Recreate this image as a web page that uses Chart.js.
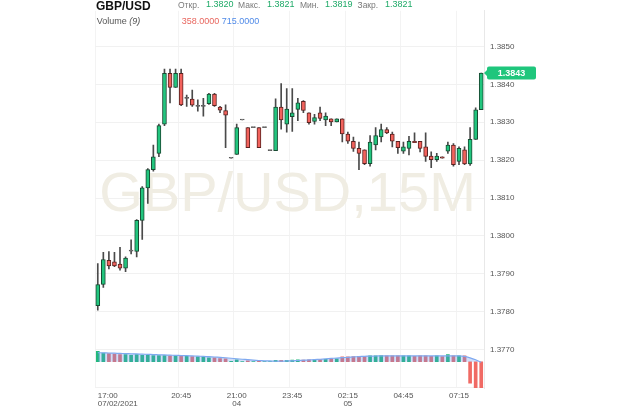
<!DOCTYPE html>
<html><head><meta charset="utf-8">
<script src="https://cdn.jsdelivr.net/npm/chart.js@4/dist/chart.umd.min.js"></script>
<style>
html,body{margin:0;padding:0;background:#fff;}
#wrap{position:relative;width:620px;height:409px;overflow:hidden;font-family:"Liberation Sans",Arial,sans-serif;}
canvas{position:absolute;left:0;top:0;}
.t{position:absolute;white-space:nowrap;}
.lb{font-size:8.5px;line-height:8.5px;color:#7a7a7a;top:1.2px;}
.vg{font-size:9px;line-height:9px;color:#1faa68;top:0px;}
</style></head><body>
<div id="wrap">
<canvas id="c" width="620" height="409"></canvas>
<div class="t" style="left:96px;top:0;font-weight:bold;font-size:12px;line-height:12px;color:#111">GBP/USD</div>
<div class="t lb" style="left:178px">Откр.</div>
<div class="t vg" style="left:206px">1.3820</div>
<div class="t lb" style="left:238px">Макс.</div>
<div class="t vg" style="left:267px">1.3821</div>
<div class="t lb" style="left:300px">Мин.</div>
<div class="t vg" style="left:325px">1.3819</div>
<div class="t lb" style="left:357.5px">Закр.</div>
<div class="t vg" style="left:385px">1.3821</div>
<div class="t" style="left:96.7px;top:17px;font-size:9px;line-height:9px;color:#555">Volume <i>(9)</i></div>
<div class="t" style="left:181.7px;top:17px;font-size:9px;line-height:9px;color:#e8665e">358.0000</div>
<div class="t" style="left:221.7px;top:17px;font-size:9px;line-height:9px;color:#4f8ae8">715.0000</div>
</div>
<script>
const opens  = [1.37816,1.37872,1.37936,1.37932,1.37926,1.37915,1.37960,1.37959,1.38041,1.38127,
                1.38175,1.38218,1.38295,1.38429,1.38392,1.38429,1.38363,1.38361,1.38342,1.38342,
                1.38349,1.38374,1.38340,1.38331,1.38205,1.38215,1.38306,1.38286,1.38286,1.38286,
                1.38286,1.38225,1.38225,1.38340,1.38295,1.38315,1.38334,1.38355,1.38325,1.38302,
                1.38325,1.38306,1.38309,1.38301,1.38309,1.38269,1.38250,1.38231,1.38227,1.38191,
                1.38240,1.38261,1.38281,1.38269,1.38250,1.38224,1.38231,1.38250,1.38250,1.38235,
                1.38211,1.38201,1.38209,1.38224,1.38240,1.38197,1.38227,1.38190,1.38255,1.38333];
const highs  = [1.37927,1.37957,1.37959,1.37957,1.37970,1.37945,1.37990,1.38043,1.38130,1.38178,
                1.38240,1.38295,1.38440,1.38440,1.38440,1.38440,1.38372,1.38385,1.38359,1.38363,
                1.38376,1.38376,1.38342,1.38346,1.38205,1.38295,1.38306,1.38286,1.38286,1.38286,
                1.38286,1.38225,1.38362,1.38402,1.38389,1.38389,1.38363,1.38357,1.38325,1.38321,
                1.38340,1.38325,1.38309,1.38309,1.38309,1.38274,1.38261,1.38248,1.38227,1.38265,
                1.38286,1.38295,1.38286,1.38274,1.38250,1.38248,1.38263,1.38272,1.38250,1.38272,
                1.38222,1.38218,1.38209,1.38248,1.38244,1.38235,1.38235,1.38286,1.38338,1.38430];
const lows   = [1.37804,1.37864,1.37913,1.37919,1.37910,1.37906,1.37953,1.37945,1.37991,1.38086,
                1.38171,1.38209,1.38291,1.38351,1.38392,1.38344,1.38342,1.38342,1.38329,1.38316,
                1.38347,1.38342,1.38325,1.38233,1.38205,1.38215,1.38306,1.38233,1.38286,1.38233,
                1.38286,1.38225,1.38225,1.38282,1.38274,1.38276,1.38304,1.38325,1.38295,1.38295,
                1.38304,1.38291,1.38291,1.38301,1.38248,1.38244,1.38223,1.38175,1.38188,1.38184,
                1.38227,1.38248,1.38270,1.38235,1.38218,1.38218,1.38214,1.38246,1.38222,1.38197,
                1.38180,1.38197,1.38205,1.38218,1.38184,1.38188,1.38188,1.38186,1.38255,1.38333];
const closes = [1.37872,1.37938,1.37921,1.37921,1.37915,1.37942,1.37960,1.38041,1.38127,1.38175,
                1.38209,1.38291,1.38429,1.38392,1.38429,1.38346,1.38363,1.38345,1.38342,1.38342,
                1.38374,1.38344,1.38332,1.38319,1.38205,1.38286,1.38306,1.38233,1.38286,1.38233,
                1.38286,1.38225,1.38340,1.38306,1.38335,1.38325,1.38351,1.38331,1.38299,1.38312,
                1.38310,1.38316,1.38301,1.38309,1.38269,1.38250,1.38231,1.38218,1.38191,1.38248,
                1.38265,1.38281,1.38272,1.38250,1.38233,1.38235,1.38250,1.38246,1.38231,1.38210,
                1.38201,1.38211,1.38205,1.38240,1.38188,1.38231,1.38190,1.38255,1.38333,1.38430];
const volumes = [1070,900,830,800,730,730,670,730,670,670,
                 630,630,630,600,600,600,570,530,500,470,
                 400,400,330,300,50,200,30,100,30,100,
                 30,30,150,150,150,170,200,170,200,200,
                 230,250,300,300,500,500,530,570,530,600,
                 600,630,600,600,600,600,600,570,600,600,
                 570,600,530,730,600,600,600,-2200,-2930,-3270];
const volumeMA = [930,920,900,880,860,840,820,800,780,760,
                  740,720,700,680,660,640,620,600,580,550,
                  520,490,450,410,360,310,260,210,170,130,
                  100,80,70,70,80,100,130,160,190,220,
                  260,300,340,380,420,460,500,530,560,580,
                  590,600,600,600,600,600,600,600,600,600,
                  600,600,600,600,600,600,550,400,200,-50];
const tickIdx  = [0,15,25,35,45,55,65];
const tickText = [['17:00','07/02/2021'],'20:45',['21:00','04'],'23:45',['02:15','05'],'04:45','07:15'];
const symbolText = 'GBP/USD,15M';

const labels = opens.map((_, i) => i);
const dir = opens.map((o, i) => closes[i] > o ? 1 : (closes[i] < o ? -1 : 0));
const GREEN = '#22c57e', RED = '#f2625c', FLAT = '#777';
const bodyColors = dir.map(d => d > 0 ? GREEN : d < 0 ? RED : FLAT);
const bodyBorders = dir.map(d => d > 0 ? '#184a32' : d < 0 ? '#5a2220' : '#555');
const volColors = volumes.map((v, i) => v < 0 ? '#f06a64' : (dir[i] >= 0 ? '#22b97a' : '#e8706e'));

const overlay = {
  id: 'overlay',
  beforeDatasetsDraw(chart) {
    const {ctx, chartArea: a} = chart;
    ctx.save();
    ctx.font = '56px "Liberation Sans", Arial, sans-serif';
    ctx.fillStyle = '#f0ede3';
    ctx.textAlign = 'center';
    ctx.textBaseline = 'alphabetic';
    ctx.fillText(symbolText, (a.left + a.right) / 2 - 2, 211);
    ctx.restore();
  },
  afterDraw(chart) {
    const {ctx, chartArea: a} = chart;
    const last = closes[closes.length - 1];
    const y = chart.scales.y.getPixelForValue(last);
    const x0 = a.right + 3, x1 = a.right + 52, h = 13;
    ctx.save();
    ctx.fillStyle = '#1fc67c';
    ctx.beginPath();
    ctx.moveTo(a.right, y);
    ctx.lineTo(x0, y - 3);
    ctx.lineTo(x0, y - h / 2 + 2);
    ctx.quadraticCurveTo(x0, y - h / 2, x0 + 2, y - h / 2);
    ctx.lineTo(x1 - 2, y - h / 2);
    ctx.quadraticCurveTo(x1, y - h / 2, x1, y - h / 2 + 2);
    ctx.lineTo(x1, y + h / 2 - 2);
    ctx.quadraticCurveTo(x1, y + h / 2, x1 - 2, y + h / 2);
    ctx.lineTo(x0 + 2, y + h / 2);
    ctx.quadraticCurveTo(x0, y + h / 2, x0, y + h / 2 - 2);
    ctx.lineTo(x0, y + 3);
    ctx.closePath();
    ctx.fill();
    ctx.fillStyle = '#fff';
    ctx.font = 'bold 9px "Liberation Sans", Arial, sans-serif';
    ctx.textAlign = 'center';
    ctx.textBaseline = 'middle';
    ctx.fillText(last.toFixed(4), (x0 + x1) / 2, y + 0.5);
    ctx.restore();
  }
};

new Chart(document.getElementById('c'), {
  data: {
    labels,
    datasets: [
      {type: 'line', yAxisID: 'yv', data: volumeMA, borderColor: '#7fa9f0', borderWidth: 1.2,
       pointRadius: 0, fill: 'origin', backgroundColor: 'rgba(100,145,235,0.30)', tension: 0.3, order: 0},
      {type: 'bar', yAxisID: 'yv', data: volumes, backgroundColor: volColors, barThickness: 3, grouped: false, order: 1},
      {type: 'bar', yAxisID: 'y', data: opens.map((o, i) => [o, closes[i]]), backgroundColor: bodyColors,
       borderColor: bodyBorders, borderWidth: 1, borderSkipped: false, barThickness: 4, minBarLength: 1, grouped: false, order: 2},
      {type: 'bar', yAxisID: 'y', data: lows.map((l, i) => [l, highs[i]]), backgroundColor: '#4a4a4a',
       barThickness: 1, grouped: false, order: 3}
    ]
  },
  options: {
    responsive: false, animation: false, devicePixelRatio: 1,
    layout: {padding: {left: 95, top: 0, right: 0, bottom: 0}},
    plugins: {legend: {display: false}, tooltip: {enabled: false}},
    scales: {
      x: {
        type: 'category', offset: true,
        grid: {color: c => tickIdx.includes(c.index) ? '#f3f3f3' : 'rgba(0,0,0,0)', drawTicks: false},
        border: {display: false},
        ticks: {autoSkip: false, maxRotation: 0, minRotation: 0, align: 'inner', padding: 4, color: '#555',
                font: {size: 8, family: '"Liberation Sans", Arial, sans-serif', lineHeight: 0.95},
                callback: (v, i) => { const k = tickIdx.indexOf(i); return k < 0 ? '' : tickText[k]; }},
        afterFit: s => { s.height = 21; }
      },
      y: {
        position: 'right', min: 1.37599, max: 1.38594,
        grid: {color: '#f1f1f1', drawTicks: false},
        border: {display: true, color: '#e8e8e8'},
        ticks: {stepSize: 0.001, includeBounds: false, padding: 6, color: '#555',
                font: {size: 8, family: '"Liberation Sans", Arial, sans-serif'},
                callback: v => v < 1.37695 ? '' : Number(v).toFixed(4)},
        afterFit: s => { s.width = 136; }
      },
      yv: {display: false, min: -2700, max: 36100}
    }
  },
  plugins: [overlay]
});
</script>
</body></html>
